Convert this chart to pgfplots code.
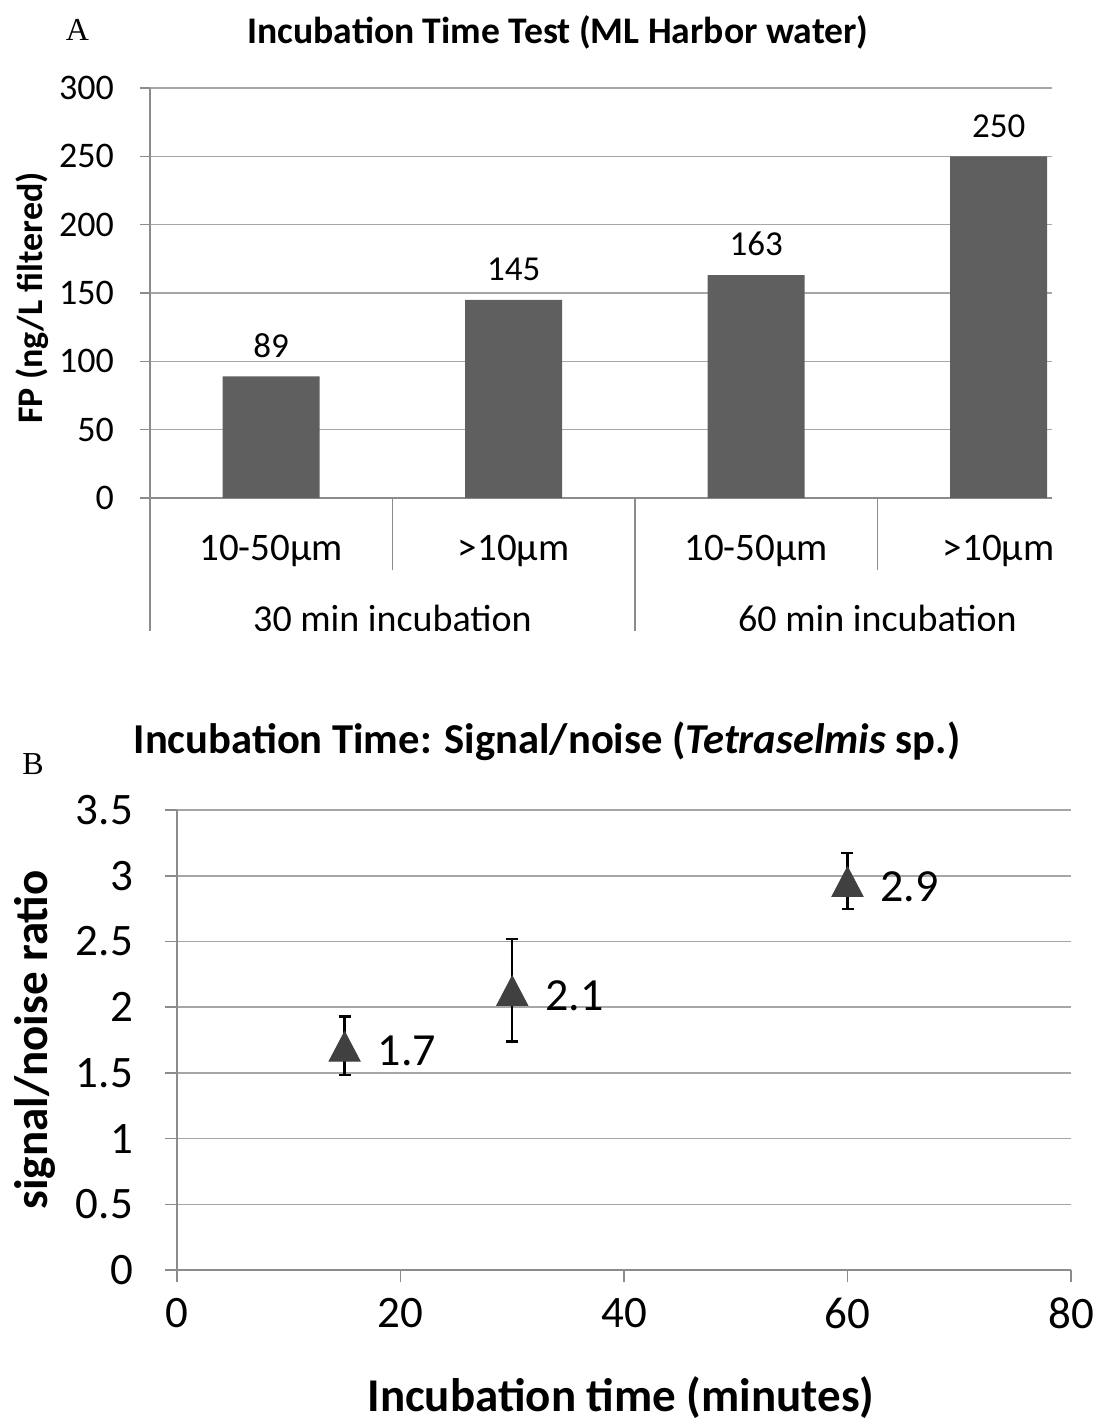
\documentclass[border=0pt]{standalone}
\usepackage{fontspec}
\setmainfont{Carlito}
\newfontfamily\letterfont{Liberation Serif}
\usepackage{pgfplots}
\pgfplotsset{compat=1.18}
\definecolor{bargray}{HTML}{5F5F5F}
\definecolor{gridgray}{HTML}{A6A6A6}
\definecolor{axgray}{HTML}{8C8C8C}
\definecolor{markgray}{HTML}{404040}

\begin{document}
\begin{tikzpicture}[x=0.5pt,y=-0.5pt]
\clip (0,0) rectangle (1099,1421);

% ---------- panel A ----------
\node[font=\letterfont\fontsize{16}{19}\selectfont] at (77.5,30) {A};
\node[font=\bfseries\fontsize{18.8}{22}\selectfont] at (558,32) {Incubation Time Test (ML Harbor water)};
\node[rotate=90, font=\bfseries\fontsize{18}{21}\selectfont] at (32,298) {FP (ng/L filtered)};

\begin{scope}
\clip (0,0) rectangle (1099,630);
\begin{axis}[
    at={(75pt,-249pt)}, anchor=south west,
    scale only axis, width=451pt, height=205pt,
    xmin=-0.5, xmax=3.22, ymin=0, ymax=300,
    ytick={0,50,...,300}, xtick=\empty,
    ymajorgrids, grid style={gridgray, line width=0.8pt},
    axis x line*=bottom, axis y line*=left,
    axis line style={-, axgray, line width=0.8pt},
    tick align=outside, major tick length=5pt,
    tick style={axgray, line width=0.8pt},
    /pgf/number format/assume math mode=true,
    yticklabel style={font=\fontsize{18}{20}\selectfont, xshift=-9.5pt},
    clip=false,
  ]
  \addplot[ybar, bar width=0.4, fill=bargray, draw=none,
    nodes near coords,
    nodes near coords style={font=\fontsize{17.5}{20}\selectfont, black, yshift=6pt}]
    coordinates {(0,89) (1,145) (2,163) (3,250)};
  % category labels
  \node[font=\fontsize{19.5}{22}\selectfont, yshift=-26.5pt] at (axis cs:0,0) {10-50µm};
  \node[font=\fontsize{19.5}{22}\selectfont, yshift=-26.5pt] at (axis cs:1,0) {>10µm};
  \node[font=\fontsize{19.5}{22}\selectfont, yshift=-26.5pt] at (axis cs:2,0) {10-50µm};
  \node[font=\fontsize{19.5}{22}\selectfont, yshift=-26.5pt] at (axis cs:3,0) {>10µm};
  \node[font=\fontsize{19}{22}\selectfont, yshift=-60pt] at (axis cs:0.5,0) {30 min incubation};
  \node[font=\fontsize{19}{22}\selectfont, yshift=-60pt] at (axis cs:2.5,0) {60 min incubation};
  % dividers
  \draw[axgray, line width=0.8pt] (axis cs:0.5,0) -- ++(0pt,-36pt);
  \draw[axgray, line width=0.8pt] (axis cs:2.5,0) -- ++(0pt,-36pt);
  \draw[axgray, line width=0.8pt] (axis cs:-0.5,0) -- ++(0pt,-70pt);
  \draw[axgray, line width=0.8pt] (axis cs:1.5,0) -- ++(0pt,-70pt);
\end{axis}
\end{scope}

% ---------- panel B ----------
\node[font=\letterfont\fontsize{16}{19}\selectfont] at (33,764) {B};
\node[font=\bfseries\fontsize{21.3}{25}\selectfont] at (547,741) {Incubation Time: Signal/noise (\textit{Tetraselmis} sp.)};
\node[rotate=90, font=\bfseries\fontsize{23.5}{26}\selectfont] at (35,1040) {signal/noise ratio};
\node[font=\bfseries\fontsize{23.5}{26}\selectfont] at (621,1398) {Incubation time (minutes)};

\begin{axis}[
    at={(88.5pt,-635pt)}, anchor=south west,
    scale only axis, width=447pt, height=230pt,
    xmin=0, xmax=80, ymin=0, ymax=3.5,
    xtick={0,20,...,80}, ytick={0,0.5,...,3.5},
    ymajorgrids, grid style={gridgray, line width=0.8pt},
    axis x line*=bottom, axis y line*=left,
    axis line style={-, axgray, line width=0.8pt},
    tick align=outside, major tick length=6pt,
    tick style={axgray, line width=0.8pt},
    /pgf/number format/assume math mode=true,
    ticklabel style={font=\fontsize{22.5}{25}\selectfont},
    yticklabel style={xshift=-12.5pt},
    xticklabel style={yshift=-4.5pt},
    clip=false,
  ]
  \addplot[only marks, mark=none,
    error bars/.cd, y dir=both, y explicit,
    error mark=-,
    error bar style={draw=black, line width=1.2pt},
    error mark options={rotate=90, draw=black, line width=1.2pt, mark size=3pt}]
    coordinates {(15,1.706) +- (0,0.222) (30,2.13) +- (0,0.39) (60,2.96) +- (0,0.215)};
  \addplot[only marks, mark=triangle*, mark size=9pt,
    mark options={fill=markgray, draw=markgray, yscale=1.1, yshift=-2.5pt},
    point meta=explicit symbolic,
    nodes near coords,
    nodes near coords style={anchor=west, xshift=13pt, black,
      font=\fontsize{23}{26}\selectfont}]
    coordinates {(15,1.706) [1.7] (30,2.13) [2.1] (60,2.96) [2.9]};
\end{axis}
\end{tikzpicture}
\end{document}
